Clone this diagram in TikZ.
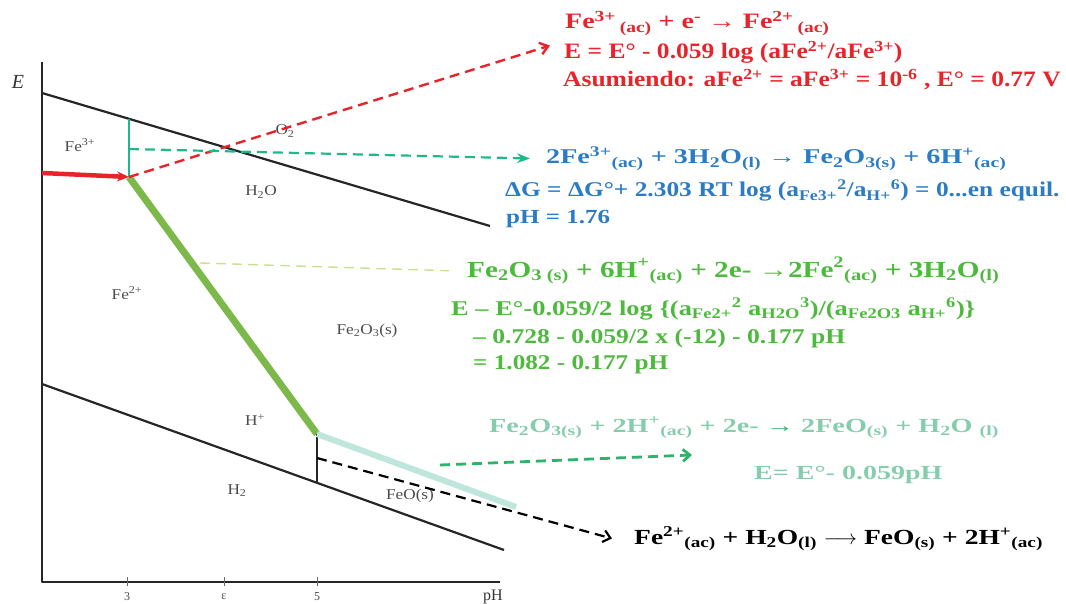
\documentclass[tikz,border=0pt]{standalone}
\usepackage{fontspec}
\setmainfont{Liberation Serif}
\usetikzlibrary{arrows.meta}
\definecolor{fered}{HTML}{E8242B}
\definecolor{feblue}{HTML}{2B7CC4}
\definecolor{fegreen}{HTML}{4DBA3E}
\definecolor{felime}{HTML}{7DB94A}
\definecolor{feteal}{HTML}{86CDAE}
\definecolor{fepale}{HTML}{BEE6DB}
\definecolor{fejade}{HTML}{1FB88A}
\definecolor{fearrow}{HTML}{2DB36A}
\definecolor{fehint}{HTML}{C9E08F}
\newcommand{\lo}[1]{\textsubscript{#1}}
\newcommand{\hi}[1]{\textsuperscript{#1}}
\tikzset{
  every picture/.style={line join=round, >=Stealth},
  axis/.style={line width=2.6pt, black!85},
  bound/.style={line width=2.2pt, black!85},
  region/.style={font=\fontsize{15}{16}\selectfont\addfontfeature{FakeStretch=1.15}, text=black!70},
  ticklbl/.style={font=\fontsize{12}{12}\selectfont, text=black!70},
  eq/.style 2 args={anchor=base west, inner sep=0pt,
    font=\bfseries\fontsize{#1}{#1}\selectfont\addfontfeature{FakeStretch=#2}},
  dashline/.style={dash pattern=on 10pt off 6pt},
}

\begin{document}
\begin{tikzpicture}[x=1pt,y=-1pt]
\useasboundingbox (0,0) rectangle (1066,604);
% axes
\coordinate (orig) at (42,582);
\coordinate (ytop) at (42,62);
\coordinate (xend) at (500,582);
\draw[axis] (ytop) -- (orig) -- (xend);
\node[font=\itshape\fontsize{20}{20}\selectfont, text=black!80] (ylab) at (18,82) {E};
\node[font=\fontsize{16}{16}\selectfont, text=black!80] (xlab) at (493,597) {pH};
\foreach \x/\t in {127/3, 224/ε, 317/5} {
  \draw[black!60, line width=0.7pt] (\x,577) -- (\x,586);
  \node[ticklbl] at (\x,597) {\t};
}
% water lines
\coordinate (oa) at (42,93);
\coordinate (ob) at (490,226);
\coordinate (ha) at (42,384);
\coordinate (hb) at (504,550);
\draw[bound] (oa) -- (ob);
\draw[bound] (ha) -- (hb);
% iron boundaries
\coordinate (tp) at (129,119);
\coordinate (tr) at (129,177);
\coordinate (tm) at (129,149);
\coordinate (qa) at (317,434);
\coordinate (qb) at (317,482);
\coordinate (qm) at (317,458);
\coordinate (fe) at (516,507);
\draw[fejade, line width=2.8pt] (tp) -- (tr);
\draw[felime, line width=7pt] (tr) -- (qa);
\draw[black!85, line width=2pt] (qa) -- (qb);
\draw[fepale, line width=6pt] (qa) -- (fe);
\draw[fered, line width=4.5pt, -{Stealth[length=12pt,width=10pt]}] (42,173) -- (tr);
% region labels
\node[region] (lfe3) at (80,145) {Fe\hi{3+}};
\node[region] (lo2) at (285,131) {O\lo{2}};
\node[region] (lh2o) at (261,192) {H\lo{2}O};
\node[region] (lfe2) at (127,293) {Fe\hi{2+}};
\node[region] (lfeo3) at (367,331) {Fe\lo{2}O\lo{3}(s)};
\node[region] (lhp) at (255,420) {H\hi{+}};
\node[region] (lh2) at (237,491) {H\lo{2}};
\node[region] (lfeo) at (410,496) {FeO(s)};
% equations
\node[eq={22}{1.27}, text=fered] (r1) at (565,29) {Fe\hi{3+}\,\lo{(ac)} + e\hi{-} → Fe\hi{2+}\,\lo{(ac)}};
\node[eq={22}{1.16}, text=fered] (r2) at (564,59) {E = E° - 0.059 log (aFe\hi{2+}/aFe\hi{3+})};
\node[eq={22}{1.16}, text=fered] (r3) at (563,87) {Asumiendo: aFe\hi{2+} = aFe\hi{3+} = 10\hi{-6} , E° = 0.77 V};
\node[eq={21}{1.34}, text=feblue] (b1) at (546,164) {2Fe\hi{3+}\lo{(ac)} + 3H\lo{2}O\lo{(l)} → Fe\lo{2}O\lo{3(s)} + 6H\hi{+}\lo{(ac)}};
\node[eq={21}{1.21}, text=feblue] (b2) at (505,197) {ΔG = ΔG°+ 2.303 RT log (a\lo{Fe3+}\hi{2}/a\lo{H+}\hi{6}) = 0...en equil.};
\node[eq={20}{1.25}, text=feblue] (b3) at (506,224) {pH = 1.76};
\node[eq={23}{1.27}, text=fegreen] (g1) at (467,277) {Fe\lo{2}O\lo{3 (s)} + 6H\hi{+}\lo{(ac)} + 2e- →2Fe\hi{2}\lo{(ac)} + 3H\lo{2}O\lo{(l)}};
\node[eq={21}{1.26}, text=fegreen] (g2) at (451,315) {E – E°-0.059/2 log \{(a\lo{Fe2+}\hi{2} a\lo{H2O}\hi{3})/(a\lo{Fe2O3} a\lo{H+}\hi{6})\}};
\node[eq={21}{1.22}, text=fegreen] (g3) at (473,343) {– 0.728 - 0.059/2 x (-12) - 0.177 pH};
\node[eq={21}{1.2}, text=fegreen] (g4) at (473,369) {= 1.082 - 0.177 pH};
\node[eq={20}{1.41}, text=feteal] (t1) at (489,432) {Fe\lo{2}O\lo{3(s)} + 2H\hi{+}\lo{(ac)} + 2e- {\color{fearrow}→} 2FeO\lo{(s)} + H\lo{2}O \lo{(l)}};
\node[eq={20}{1.4}, text=feteal] (t2) at (754,479) {E= E°- 0.059pH};
\node[eq={21.5}{1.28}, text=black] (k1) at (634,544) {Fe\hi{2+}\lo{(ac)} + H\lo{2}O\lo{(l)} $\longrightarrow$ FeO\lo{(s)} + 2H\hi{+}\lo{(ac)}};
% connectors
\coordinate (ga) at (200,263);
\coordinate (ta) at (440,465);
\coordinate (tb) at (692,455);
\draw[fered, line width=2.4pt, dashline, -{Straight Barb[length=8pt,width=12pt]}] (tr) -- ([shift={(-14,-7)}]r2.west);
\draw[fejade, line width=2.2pt, dashline, ->] (tm) -- ([xshift=-16pt]b1.west);
\draw[fehint, line width=1.4pt, dashline] (ga) -- ([xshift=-18pt]g1.west);
\draw[fearrow, line width=2.8pt, dashline, -{Straight Barb[length=7pt,width=12pt]}] (ta) -- (tb);
\draw[black, line width=2.2pt, dashline, -{Straight Barb[length=7pt,width=12pt]}] (qm) -- ([xshift=-22pt]k1.west);
\end{tikzpicture}
\end{document}
